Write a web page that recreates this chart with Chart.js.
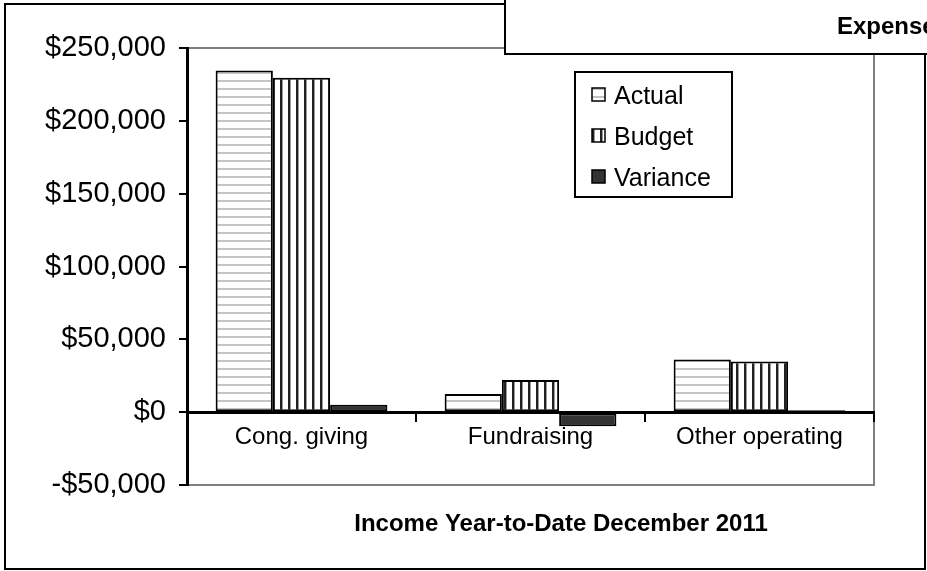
<!DOCTYPE html>
<html>
<head>
<meta charset="utf-8">
<script src="https://cdn.jsdelivr.net/npm/chart.js@4"></script>
<style>
  body { margin: 0; background: #fff; }
  canvas { display: block; }
</style>
</head>
<body>
<canvas id="incomeChart" width="927" height="571"></canvas>
<script>
// Données
const categories = ['Cong. giving', 'Fundraising', 'Other operating'];
const actual = [234600, 12500, 36100];
const budget = [229500, 22100, 34700];
const variance = [5100, -9600, 1400];
const yMin = -50000;
const yMax = 250000;
const yStep = 50000;
const chartTitle = 'Income Year-to-Date December 2011';
const neighbourTitle = 'Expenses Year-to-Date December 2011';

const FONT = "'Liberation Sans', Arial, sans-serif";

// motifs de remplissage (hachures)
function makePattern(w, h, draw) {
    const c = document.createElement('canvas');
    c.width = w; c.height = h;
    const g = c.getContext('2d');
    g.fillStyle = '#fff';
    g.fillRect(0, 0, w, h);
    draw(g);
    return document.getElementById('incomeChart').getContext('2d').createPattern(c, 'repeat');
}
const hStripes = makePattern(8, 8, g => {
    g.fillStyle = '#c4c4c4';
    g.fillRect(0, 0, 8, 2);
});
const vStripes = makePattern(8, 8, g => {
    g.fillStyle = '#222';
    g.fillRect(0, 0, 2, 8);
    g.fillStyle = '#9a9a9a';
    g.fillRect(2, 0, 1, 8);
});

function money(v) {
    const s = '$' + Math.abs(v).toLocaleString('en-US');
    return v < 0 ? '-' + s : s;
}

const decor = {
    id: 'decor',
    beforeDraw(chart) {
        const { ctx, chartArea: a } = chart;
        ctx.save();
        ctx.fillStyle = '#fff';
        ctx.fillRect(0, 0, chart.width, chart.height);
        ctx.strokeStyle = '#000';
        ctx.lineWidth = 2;
        ctx.strokeRect(5, 4, 920, 565);
        ctx.strokeStyle = '#808080';
        ctx.strokeRect(a.left, a.top, a.right - a.left, a.bottom - a.top);
        ctx.restore();
    },
    afterDraw(chart) {
        const ctx = chart.ctx;
        ctx.save();
        // légende
        ctx.fillStyle = '#fff';
        ctx.fillRect(575, 72, 157, 125);
        ctx.strokeStyle = '#000';
        ctx.lineWidth = 2;
        ctx.strokeRect(575, 72, 157, 125);
        ctx.font = '25px ' + FONT;
        ctx.textBaseline = 'middle';
        chart.data.datasets.forEach((ds, i) => {
            const cy = 95 + i * 41;
            ctx.fillStyle = ds.backgroundColor;
            ctx.fillRect(592, cy - 7, 13, 13);
            ctx.lineWidth = 1.5;
            ctx.strokeStyle = '#000';
            ctx.strokeRect(592, cy - 7, 13, 13);
            ctx.fillStyle = '#000';
            ctx.fillText(ds.label, 614, cy + 2);
        });
        // titre
        ctx.font = 'bold 24px ' + FONT;
        ctx.textAlign = 'center';
        ctx.fillText(chartTitle, 561, 524);
        // cadre du graphique voisin qui déborde
        ctx.fillStyle = '#fff';
        ctx.fillRect(505, -5, 440, 59);
        ctx.lineWidth = 2;
        ctx.strokeRect(505, -5, 440, 59);
        ctx.fillStyle = '#000';
        ctx.textAlign = 'left';
        ctx.fillText(neighbourTitle, 837, 27);
        ctx.restore();
    }
};

new Chart(document.getElementById('incomeChart'), {
    type: 'bar',
    data: {
        labels: categories,
        datasets: [
            { label: 'Actual', data: actual, backgroundColor: hStripes },
            { label: 'Budget', data: budget, backgroundColor: vStripes },
            { label: 'Variance', data: variance, backgroundColor: '#333333' }
        ]
    },
    options: {
        responsive: false,
        animation: false,
        devicePixelRatio: 1,
        layout: { padding: { left: 0, top: 48, right: 53, bottom: 86 } },
        datasets: {
            bar: {
                categoryPercentage: 0.75,
                barPercentage: 1.0,
                borderColor: '#000',
                borderWidth: 2,
                borderSkipped: false
            }
        },
        plugins: {
            legend: { display: false },
            title: { display: false },
            tooltip: { enabled: false }
        },
        scales: {
            y: {
                min: yMin,
                max: yMax,
                afterFit: s => { s.width = 187; },
                ticks: {
                    stepSize: yStep,
                    color: '#000',
                    padding: 13,
                    font: { family: FONT, size: 29 },
                    callback: v => money(v)
                },
                grid: { drawOnChartArea: false, color: '#000', lineWidth: 2, tickLength: 8 },
                border: { color: '#000', width: 3 }
            },
            x: {
                position: { y: 0 },
                z: 1,
                ticks: {
                    color: '#000',
                    padding: 3,
                    font: { family: FONT, size: 24 }
                },
                grid: { drawOnChartArea: false, color: '#000', lineWidth: 2, tickLength: 8 },
                border: { color: '#000', width: 3 }
            }
        }
    },
    plugins: [decor]
});
</script>
</body>
</html>
